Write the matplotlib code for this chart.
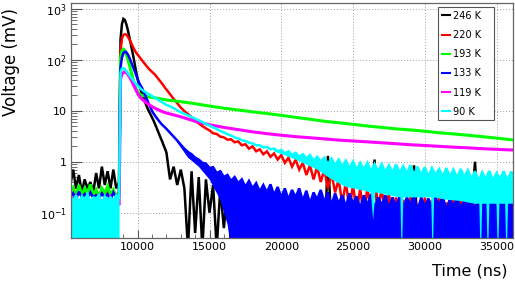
import numpy as np
import matplotlib
matplotlib.use("Agg")
import matplotlib.pyplot as plt
from matplotlib.ticker import MultipleLocator, LogLocator, NullFormatter

# ---------------- data ----------------
labels = ["246 K", "220 K", "193 K", "133 K", "119 K", "90 K"]
colors = ["#000000", "#ff0000", "#00ff00", "#0000ff", "#ff00ff", "#00ffff"]

# time grids (ns)
t_base = np.arange(5300, 8800, 200)          # pre-trigger baseline, 18 samples
t_pulse = np.arange(8800, 12100, 100)        # pulse region, 33 samples
t_tail = np.arange(12250, 36300, 250)        # noisy tail, 97 samples
t_tail_smooth = np.arange(13000, 37100, 1000)  # smooth tail, 25 samples

# 246 K (black)
k246_base = [0.35, 0.7, 0.3, 0.55, 0.25, 0.45, 0.3, 0.4, 0.25, 0.6, 0.3, 0.8, 0.35, 0.65, 0.3, 0.7, 0.3, 0.4]
k246_pulse = [250, 500, 630, 600, 500, 390, 290, 215, 155, 112, 78, 55, 40, 32, 26, 21, 18, 15,
              12.6, 10.8, 9.5, 8.4, 7.4, 6.4, 5.5, 4.7, 4.0, 3.4, 2.9, 2.5, 2.1, 1.8, 1.5]
k246_tail = [0.45, 0.8, 0.35, 0.7, 0.3, 0.02, 0.65, 0.04, 0.5, 0.02, 0.45, 0.1, 0.35, 0.02, 0.3, 0.05,
             0.28, 0.02, 0.22, 0.03, 0.18, 0.02, 0.2, 0.02, 0.15, 0.02,
             0.12, 0.02, 0.14, 0.02, 0.1, 0.02, 0.13, 0.02, 0.1, 0.02, 0.12, 0.02, 0.11, 0.02, 0.13, 0.02, 0.1, 0.02,
             1.3, 0.05,
             0.12, 0.02, 0.1, 0.02, 0.12, 0.02, 0.11, 0.02, 0.1, 0.02, 0.12,
             1.1, 0.05,
             0.1, 0.02, 0.12, 0.02, 0.1, 0.02, 0.11, 0.02, 0.1,
             0.85, 0.05,
             0.1, 0.02, 0.12, 0.02, 0.1, 0.02, 0.11, 0.02, 0.1, 0.02, 0.12, 0.02, 0.1, 0.02, 0.1,
             1.0, 0.05,
             0.1, 0.02, 0.12, 0.02, 0.1, 0.02, 0.11, 0.02, 0.1, 0.02]

# 220 K (red)
k220_base = [0.25, 0.3, 0.22, 0.28, 0.2, 0.26, 0.22, 0.25, 0.2, 0.27, 0.22, 0.25, 0.2, 0.26, 0.23, 0.27, 0.22, 0.25]
k220_pulse = [150, 260, 305, 315, 310, 285, 255, 225, 195, 170, 150, 135, 125, 115, 105, 97, 89, 82,
              76, 70, 65, 61, 57, 54, 51, 47, 43, 40, 37, 34, 31, 28, 26]
k220_tail = [21, 17, 14, 11.5, 9.8, 8.6, 7.5, 6.5, 5.6, 5.0, 4.5, 4.1, 3.6, 3.5, 3.1, 3.0,
             2.7, 2.75, 2.4, 2.5, 2.1, 2.2, 1.8, 2.0, 1.6, 1.75, 1.4, 1.6, 1.25, 1.45, 1.1, 1.35,
             0.95, 1.2, 0.8, 1.1, 0.7, 0.95, 0.55, 0.85, 0.45, 0.8, 0.4, 0.7, 0.3, 0.6, 0.25, 0.45,
             0.15, 0.4, 0.12, 0.35, 0.1, 0.3, 0.08, 0.32, 0.1, 0.4, 0.12, 0.3, 0.08, 0.25, 0.05,
             0.2, 0.03, 0.18, 0.04, 0.22, 0.03, 0.15, 0.02, 0.2, 0.03, 0.18, 0.03, 0.2, 0.02, 0.16, 0.03,
             0.2, 0.03, 0.18, 0.02, 0.2, 0.03, 0.15, 0.03, 0.2, 0.02, 0.18, 0.03, 0.2, 0.03, 0.16, 0.02,
             0.2, 0.03]

# 193 K (green)
k193_base = [0.22, 0.3, 0.2, 0.35, 0.22, 0.3, 0.24, 0.36, 0.22, 0.28, 0.2, 0.3, 0.24, 0.33, 0.22, 0.28, 0.2, 0.26]
k193_pulse = [110, 150, 160, 150, 128, 103, 82, 64, 50, 39, 31, 26, 23, 21.5, 20.5, 20, 19.6, 19.3,
              19, 18.8, 18.6, 18.4, 18.2, 18, 17.8, 17.6, 17.4, 17.2, 17, 16.8, 16.6, 16.4, 16.2]
k193_tail = [15, 13.7, 12.3, 11.2, 10.3, 9.5, 8.8, 8.1, 7.4, 6.8, 6.2, 5.8, 5.4, 5.0, 4.7, 4.4,
             4.2, 3.95, 3.7, 3.5, 3.3, 3.1, 2.9, 2.7, 2.55]

# 133 K (blue)
k133_base = [0.2, 0.24, 0.18, 0.26, 0.2, 0.23, 0.18, 0.25, 0.2, 0.22, 0.19, 0.24, 0.2, 0.23, 0.18, 0.25, 0.2, 0.22]
k133_pulse = [70, 110, 135, 143, 140, 128, 112, 96, 81, 68, 57, 48, 41, 35, 31, 28, 24, 20.5,
              17.5, 15, 13, 11.3, 9.8, 8.8, 8.0, 7.3, 6.7, 6.2, 5.7, 5.3, 5.0, 4.7, 4.4]
k133_tail = [3.7, 3.1, 2.6, 2.15, 1.8, 1.55, 1.4, 1.2, 1.1, 0.95, 0.92, 0.75, 0.78, 0.6, 0.65, 0.5,
             0.55, 0.42, 0.5, 0.38, 0.45, 0.32, 0.42, 0.3, 0.38, 0.26, 0.35, 0.25, 0.36, 0.22, 0.32, 0.2,
             0.3, 0.18, 0.28, 0.2, 0.3, 0.17, 0.27, 0.15, 0.25, 0.18, 0.28, 0.16, 0.25, 0.14, 0.24, 0.15,
             0.22, 0.13, 0.24, 0.15, 0.21, 0.12, 0.22, 0.14, 0.23, 0.12, 0.2, 0.14, 0.22, 0.12, 0.2,
             0.13, 0.21, 0.12, 0.2, 0.14, 0.22, 0.11, 0.2, 0.13, 0.19, 0.12, 0.2, 0.14, 0.21, 0.11, 0.19,
             0.13, 0.2, 0.12, 0.18, 0.13, 0.2, 0.11, 0.19, 0.12, 0.2, 0.13, 0.18, 0.11, 0.2, 0.12, 0.19,
             0.13, 0.2]
# lower edge of the dense blue noise band
k133_band_t = [12750, 13500, 14250, 15000, 15750, 16250, 16750, 36250]
k133_band_lo = [2.4, 1.2, 0.8, 0.45, 0.18, 0.06, 0.01, 0.01]

# 119 K (magenta)
k119_base = [0.18, 0.12, 0.2, 0.15, 0.19, 0.11, 0.2, 0.16, 0.18, 0.12, 0.2, 0.15, 0.19, 0.13, 0.2, 0.16, 0.18, 0.14]
k119_pulse = [42, 52, 56, 58, 56, 52, 47, 42, 37, 32, 28, 24.5, 21.5, 19.5, 18, 16.8, 15.8, 15,
              14.3, 13.6, 13, 12.5, 12, 11.6, 11.2, 10.8, 10.5, 10.2, 9.9, 9.6, 9.4, 9.2, 9.0]
k119_tail = [7.6, 6.2, 5.3, 4.7, 4.25, 3.85, 3.55, 3.3, 3.1, 2.95, 2.8, 2.65, 2.55, 2.45, 2.35, 2.25,
             2.15, 2.08, 2.0, 1.93, 1.87, 1.8, 1.75, 1.7, 1.68]

# 90 K (cyan)
k90_base = [0.2, 0.17, 0.22, 0.15, 0.21, 0.18, 0.23, 0.16, 0.2, 0.19, 0.22, 0.14, 0.21, 0.18, 0.2, 0.17, 0.22, 0.2]
k90_pulse = [55, 67, 68, 65, 60, 55, 50, 46, 42, 39, 36, 33, 31, 29, 27, 25.5, 24.5, 23.5,
             22.5, 21.5, 20.8, 20, 19.3, 18.6, 18, 17.2, 16.5, 15.8, 15.2, 14.6, 14, 13.5, 13]
k90_tail = [12.2, 11.2, 10.2, 9.3, 8.7, 8.1, 7.5, 7.0, 6.5, 6.0, 5.5, 5.1, 4.7, 4.4, 4.0, 3.75,
            3.45, 3.25, 3.0, 2.85, 2.65, 2.55, 2.35, 2.3, 2.1, 2.1, 1.9, 1.95, 1.75, 1.8, 1.6, 1.7,
            1.45, 1.6, 1.35, 1.5, 1.25, 1.4, 1.15, 1.35, 1.05, 1.25, 1.0, 1.2, 0.9, 1.15, 0.85, 1.1,
            0.8, 1.05, 0.75, 1.0, 0.7, 0.95, 0.7, 0.95, 0.65, 0.9, 0.65, 0.9, 0.62, 0.85, 0.6,
            0.88, 0.6, 0.82, 0.58, 0.85, 0.55, 0.8, 0.55, 0.78, 0.5, 0.75, 0.55, 0.72, 0.5, 0.75, 0.5,
            0.7, 0.48, 0.72, 0.5, 0.68, 0.45, 0.65, 0.42, 0.62, 0.45, 0.66, 0.42, 0.6, 0.45, 0.65, 0.42,
            0.62, 0.6]
# lower edge of the dense cyan noise band
k90_band_t = [19500, 21000, 22500, 23500, 24500, 25500, 26250, 26400, 26550, 27500,
              28300, 28400, 28500, 29500, 30450, 30550, 30650, 31500, 32500, 33500,
              33800, 33900, 34000, 34300, 34400, 34500, 35000, 35100, 35200, 35600,
              35700, 35800, 36250]
k90_band_lo = [1.6, 1.1, 0.7, 0.45, 0.32, 0.28, 0.25, 0.07, 0.25, 0.22,
               0.2, 0.01, 0.2, 0.2, 0.2, 0.01, 0.2, 0.18, 0.17, 0.15,
               0.15, 0.01, 0.15, 0.15, 0.01, 0.15, 0.15, 0.01, 0.15, 0.15,
               0.01, 0.15, 0.15]

x_ticks = [10000, 15000, 20000, 25000, 30000, 35000]
y_ticks = [0.1, 1, 10, 100, 1000]
y_ticklabels = [r"$10^{-1}$", "1", "10", r"$10^{2}$", r"$10^{3}$"]

# ---------------- figure ----------------
plt.rcParams["font.family"] = ["DejaVu Sans"]
plt.rcParams["mathtext.fontset"] = "dejavusans"

fig = plt.figure(figsize=(5.15, 2.84), dpi=100)
ax = fig.add_axes([0.1379, 0.162, 0.8583, 0.8275])
ax.set_yscale("log")

LW = 1.8

def build(base, pulse, tail, tail_grid):
    t = np.concatenate([t_base, t_pulse, tail_grid])
    v = np.array(base + pulse + tail, dtype=float)
    return t, v

def band(t, v, bt, blo, color, z):
    m = t >= bt[0]
    xs = np.concatenate([t[m], np.array(bt)[::-1]])
    ys = np.concatenate([v[m], np.array(blo)[::-1]])
    ax.fill(xs, ys, color=color, lw=0, zorder=z)

series = [
    (k246_base, k246_pulse, k246_tail, t_tail),
    (k220_base, k220_pulse, k220_tail, t_tail),
    (k193_base, k193_pulse, k193_tail, t_tail_smooth),
    (k133_base, k133_pulse, k133_tail, t_tail),
    (k119_base, k119_pulse, k119_tail, t_tail_smooth),
    (k90_base, k90_pulse, k90_tail, t_tail),
]

handles = []
for i, (b, p, tl, g) in enumerate(series):
    t, v = build(b, p, tl, g)
    z = 3 + i
    lw = 2.2 if i in (2, 4) else LW
    if i == 3:
        band(t, v, k133_band_t, k133_band_lo, colors[i], z)
    if i == 5:
        ax.fill_between(t_base, 0.01, np.array(k90_base), color=colors[i], lw=0, zorder=z)
        band(t, v, k90_band_t, k90_band_lo, colors[i], z)
    h, = ax.plot(t, v, color=colors[i], lw=lw, zorder=z, label=labels[i],
                 solid_joinstyle="miter")
    handles.append(h)

ax.set_xlim(5350, 36150)
ax.set_ylim(0.032, 1290)

ax.set_xticks(x_ticks, [str(x) for x in x_ticks])
ax.xaxis.set_minor_locator(MultipleLocator(1000))
ax.set_yticks(y_ticks, y_ticklabels)
ax.yaxis.set_minor_locator(LogLocator(base=10, subs=np.arange(2, 10)))
ax.yaxis.set_minor_formatter(NullFormatter())

ax.tick_params(which="both", direction="in", top=False, right=False,
               color="#555555", labelsize=8, pad=3)
ax.tick_params(axis="y", which="major", length=8, width=0.8)
ax.tick_params(axis="y", which="minor", length=4, width=0.6)
ax.tick_params(axis="x", which="major", length=6, width=0.8)
ax.tick_params(axis="x", which="minor", length=3, width=0.6)

ax.grid(True, which="major", ls=(0, (1, 2)), color="#a0a0a0", lw=0.7)
ax.set_axisbelow(True)
for s in ax.spines.values():
    s.set_color("#666666")
    s.set_linewidth(0.9)
    s.set_zorder(20)

leg = ax.legend(handles=handles, loc="upper left",
                bbox_to_anchor=(0.831, 0.50, 0.1267, 0.4817), mode="expand",
                fontsize=7, handlelength=0.9, handletextpad=0.3, labelspacing=0.95,
                borderpad=0.35, borderaxespad=0, fancybox=False, framealpha=1,
                edgecolor="#555555")
leg.get_frame().set_linewidth(0.8)
leg.set_zorder(30)
for lh in leg.get_lines():
    lh.set_linewidth(1.5)

fig.text(0.004, 1 - 8 / 284, "Voltage (mV)", rotation=90, ha="left", va="top", fontsize=12)
fig.text(508 / 515, 5 / 284, "Time (ns)", ha="right", va="bottom", fontsize=11.5)

fig.savefig("out.png", dpi=100)
